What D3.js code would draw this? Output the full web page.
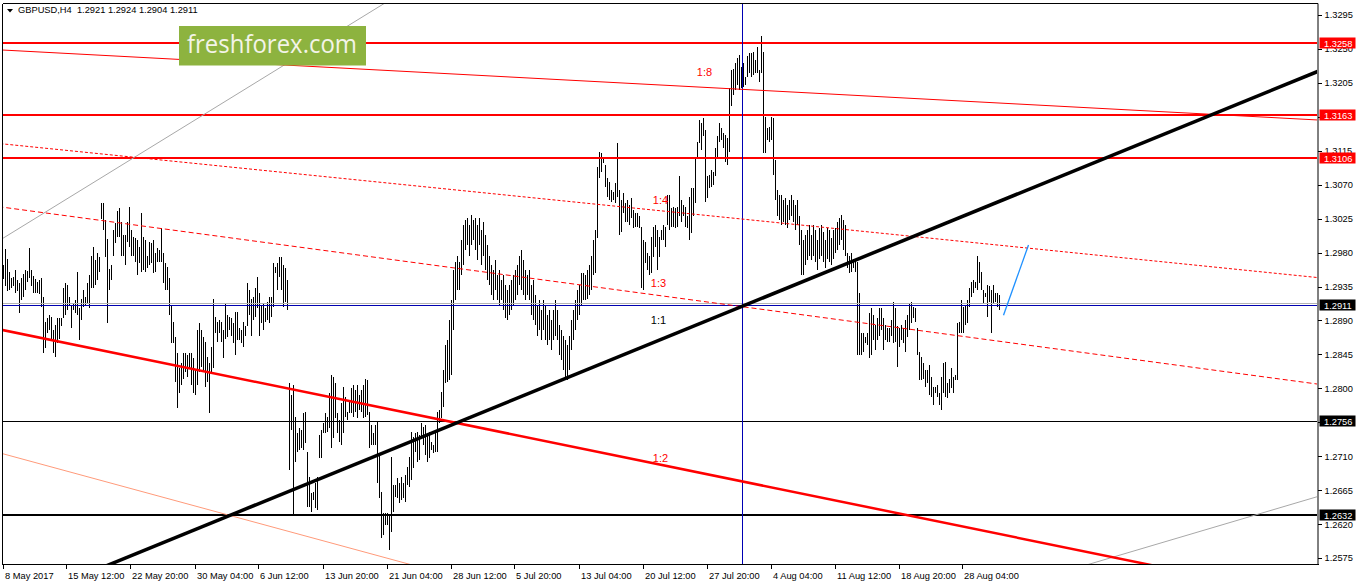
<!DOCTYPE html>
<html><head><meta charset="utf-8">
<script src="https://cdn.jsdelivr.net/npm/d3@7"></script>
<style>html,body{margin:0;padding:0;background:#fff;overflow:hidden}svg{display:block}</style>
</head><body>
<svg id="c" width="1358" height="584"></svg>
<script>
// ---------------- DATA ----------------
const symbol = "GBPUSD,H4";
const lastOHLC = [1.2921, 1.2924, 1.2904, 1.2911];

// H4 bar highs / lows (one per bar, oldest first)
const highs = [
1.2963,1.2985,1.2972,1.2954,1.2946,1.2948,1.2957,1.2944,1.2939,1.2946,
1.2952,1.2957,1.2956,1.2986,1.2957,1.2949,1.2945,1.2941,1.2944,1.2946,
1.2921,1.2888,1.2893,1.2897,1.2895,1.2877,1.2884,1.2893,1.2893,1.2893,
1.2933,1.2940,1.2937,1.2921,1.2910,1.2912,1.2917,1.2954,1.2906,1.2919,
1.2930,1.2921,1.2940,1.2950,1.2976,1.2988,1.2970,1.2980,1.2974,1.3046,
1.3046,1.3023,1.2998,1.2958,1.2963,1.3010,1.3019,1.3035,1.3039,1.3020,
1.3003,1.3003,1.3020,1.3041,1.3010,1.3001,1.2999,1.2997,1.2988,1.3032,
1.3001,1.2997,1.2976,1.2994,1.2993,1.2997,1.2980,1.2986,1.2983,1.3013,
1.2979,1.2966,1.2961,1.2946,1.2910,1.2888,1.2868,1.2847,1.2827,1.2834,
1.2847,1.2847,1.2844,1.2847,1.2847,1.2840,1.2824,1.2877,1.2887,1.2877,
1.2868,1.2861,1.2842,1.2834,1.2855,1.2919,1.2895,1.2888,1.2891,1.2888,
1.2877,1.2913,1.2897,1.2895,1.2893,1.2887,1.2901,1.2901,1.2880,1.2877,
1.2888,1.2882,1.2940,1.2930,1.2919,1.2921,1.2933,1.2948,1.2926,1.2910,
1.2913,1.2906,1.2914,1.2921,1.2921,1.2966,1.2961,1.2966,1.2974,1.2974,
1.2963,1.2959,1.2944,1.2807,1.2791,1.2804,1.2762,1.2741,1.2747,1.2745,
1.2767,1.2768,1.2715,1.2683,1.2661,1.2662,1.2675,1.2683,1.2738,1.2745,
1.2754,1.2767,1.2762,1.2794,1.2818,1.2815,1.2807,1.2767,1.2758,1.2781,
1.2802,1.2788,1.2768,1.2785,1.2800,1.2804,1.2798,1.2804,1.2791,1.2798,
1.2804,1.2813,1.2811,1.2768,1.2751,1.2741,1.2751,1.2755,1.2714,1.2662,
1.2635,1.2635,1.2635,1.2632,1.2709,1.2672,1.2672,1.2681,1.2675,1.2683,
1.2675,1.2685,1.2696,1.2709,1.2742,1.2735,1.2741,1.2742,1.2738,1.2754,
1.2749,1.2751,1.2741,1.2742,1.2729,1.2725,1.2741,1.2768,1.2771,1.2795,
1.2824,1.2858,1.2864,1.2891,1.2917,1.2957,1.2967,1.2976,1.2967,1.2997,
1.3017,1.3023,1.3026,1.3017,1.3030,1.3023,1.3026,1.3017,1.3026,1.3010,
1.3020,1.3003,1.2990,1.2976,1.2963,1.2957,1.2970,1.2950,1.2957,1.2944,
1.2950,1.2937,1.2930,1.2937,1.2944,1.2950,1.2957,1.2963,1.2976,1.2983,
1.2970,1.2957,1.2950,1.2957,1.2937,1.2944,1.2924,1.2910,1.2917,1.2904,
1.2917,1.2910,1.2897,1.2904,1.2891,1.2904,1.2917,1.2904,1.2884,1.2877,
1.2870,1.2864,1.2858,1.2870,1.2891,1.2904,1.2917,1.2930,1.2937,1.2953,
1.2953,1.2950,1.2957,1.2963,1.2976,1.2997,1.3010,1.3093,1.3113,1.3112,
1.3105,1.3096,1.3079,1.3074,1.3063,1.3060,1.3072,1.3125,1.3063,1.3050,
1.3059,1.3046,1.3050,1.3043,1.3052,1.3036,1.3033,1.3032,1.3029,1.3014,
1.2997,1.2994,1.2979,1.2976,1.3001,1.3014,1.3017,1.3010,1.3001,1.3010,
1.3017,1.3014,1.3056,1.3056,1.3039,1.3041,1.3039,1.3041,1.3081,1.3050,
1.3043,1.3041,1.3029,1.3054,1.3066,1.3066,1.3107,1.3126,1.3156,1.3152,
1.3159,1.3143,1.3081,1.3083,1.3090,1.3087,1.3119,1.3134,1.3152,1.3145,
1.3139,1.3136,1.3132,1.3198,1.3222,1.3224,1.3232,1.3238,1.3242,1.3226,
1.3231,1.3213,1.3240,1.3245,1.3245,1.3246,1.3235,1.3253,1.3222,1.3267,
1.3246,1.3160,1.3145,1.3147,1.3160,1.3159,1.3103,1.3063,1.3056,1.3056,
1.3050,1.3052,1.3043,1.3050,1.3056,1.3050,1.3043,1.3050,1.3029,1.3010,
1.2997,1.3003,1.3010,1.3017,1.3003,1.3017,1.3010,1.2997,1.3013,1.3017,
1.3007,1.2997,1.3013,1.3010,1.2999,1.3010,1.3013,1.3020,1.3026,1.3030,
1.3023,1.3017,1.2980,1.2976,1.2980,1.2972,1.2970,1.2967,1.2926,1.2874,
1.2873,1.2868,1.2873,1.2900,1.2906,1.2897,1.2884,1.2893,1.2906,1.2906,
1.2893,1.2884,1.2880,1.2880,1.2891,1.2914,1.2906,1.2882,1.2880,1.2884,
1.2880,1.2891,1.2897,1.2913,1.2914,1.2908,1.2906,1.2880,1.2848,1.2842,
1.2834,1.2824,1.2824,1.2831,1.2815,1.2802,1.2802,1.2804,1.2794,1.2815,
1.2834,1.2835,1.2807,1.2813,1.2827,1.2815,1.2818,1.2887,1.2888,1.2917,
1.2908,1.2910,1.2917,1.2933,1.2941,1.2944,1.2941,1.2976,1.2967,1.2954,
1.2930,1.2927,1.2937,1.2935,1.2930,1.2937,1.2927,1.2926,1.2924
];
const lows = [
1.2945,1.2935,1.2929,1.2930,1.2933,1.2935,1.2926,1.2929,1.2900,1.2917,
1.2921,1.2930,1.2941,1.2946,1.2935,1.2926,1.2926,1.2927,1.2925,1.2908,
1.2847,1.2853,1.2873,1.2877,1.2864,1.2847,1.2842,1.2860,1.2866,1.2882,
1.2893,1.2897,1.2904,1.2910,1.2880,1.2904,1.2900,1.2897,1.2864,1.2891,
1.2908,1.2910,1.2913,1.2906,1.2933,1.2933,1.2937,1.2944,1.2954,1.3024,
1.3010,1.2974,1.2887,1.2930,1.2944,1.2976,1.2993,1.3001,1.3001,1.2976,
1.2976,1.2963,1.2994,1.2988,1.2976,1.2976,1.2967,1.2950,1.2966,1.2954,
1.2957,1.2954,1.2960,1.2963,1.2966,1.2953,1.2954,1.2967,1.2967,1.2967,
1.2940,1.2930,1.2930,1.2897,1.2860,1.2860,1.2808,1.2774,1.2794,1.2804,
1.2813,1.2821,1.2815,1.2827,1.2804,1.2794,1.2791,1.2804,1.2821,1.2828,
1.2821,1.2802,1.2808,1.2767,1.2821,1.2827,1.2873,1.2861,1.2874,1.2861,
1.2840,1.2866,1.2868,1.2877,1.2870,1.2860,1.2844,1.2864,1.2864,1.2860,
1.2855,1.2870,1.2882,1.2897,1.2870,1.2891,1.2895,1.2906,1.2870,1.2887,
1.2877,1.2888,1.2891,1.2887,1.2895,1.2908,1.2953,1.2930,1.2948,1.2930,
1.2908,1.2914,1.2904,1.2692,1.2745,1.2632,1.2702,1.2715,1.2718,1.2721,
1.2718,1.2728,1.2643,1.2643,1.2636,1.2652,1.2641,1.2639,1.2707,1.2707,
1.2741,1.2741,1.2742,1.2747,1.2721,1.2734,1.2760,1.2741,1.2729,1.2725,
1.2741,1.2762,1.2758,1.2767,1.2767,1.2762,1.2768,1.2760,1.2771,1.2768,
1.2760,1.2762,1.2764,1.2721,1.2725,1.2725,1.2725,1.2675,1.2654,1.2601,
1.2605,1.2619,1.2619,1.2586,1.2609,1.2636,1.2656,1.2654,1.2648,1.2652,
1.2654,1.2649,1.2672,1.2669,1.2679,1.2694,1.2715,1.2702,1.2705,1.2734,
1.2725,1.2711,1.2702,1.2707,1.2718,1.2714,1.2715,1.2715,1.2754,1.2760,
1.2775,1.2807,1.2808,1.2811,1.2818,1.2877,1.2917,1.2930,1.2930,1.2950,
1.2963,1.2983,1.2990,1.2976,1.2990,1.2997,1.2983,1.2970,1.2990,1.2963,
1.2976,1.2957,1.2944,1.2937,1.2924,1.2917,1.2930,1.2917,1.2910,1.2917,
1.2904,1.2893,1.2891,1.2897,1.2904,1.2910,1.2917,1.2924,1.2937,1.2930,
1.2924,1.2917,1.2924,1.2917,1.2897,1.2891,1.2884,1.2870,1.2877,1.2864,
1.2877,1.2864,1.2858,1.2864,1.2851,1.2864,1.2870,1.2864,1.2844,1.2838,
1.2824,1.2813,1.2811,1.2824,1.2851,1.2864,1.2877,1.2891,1.2897,1.2910,
1.2917,1.2917,1.2919,1.2924,1.2930,1.2950,1.2953,1.2999,1.3079,1.3087,
1.3099,1.3067,1.3054,1.3050,1.3047,1.3050,1.3046,1.3054,1.3003,1.3007,
1.3032,1.3020,1.3020,1.3017,1.3026,1.3013,1.3014,1.3014,1.3013,1.2933,
1.2930,1.2966,1.2957,1.2950,1.2953,1.2974,1.2988,1.2957,1.2974,1.2997,
1.2997,1.2988,1.3017,1.3010,1.3014,1.3014,1.3013,1.3014,1.3029,1.3020,
1.3029,1.3014,1.3013,1.2997,1.3006,1.3029,1.3046,1.3105,1.3125,1.3116,
1.3134,1.3047,1.3053,1.3066,1.3067,1.3070,1.3081,1.3105,1.3126,1.3129,
1.3119,1.3100,1.3096,1.3113,1.3175,1.3189,1.3196,1.3202,1.3196,1.3198,
1.3200,1.3202,1.3213,1.3218,1.3213,1.3215,1.3218,1.3218,1.3206,1.3218,
1.3112,1.3112,1.3129,1.3126,1.3129,1.3083,1.3050,1.3029,1.3023,1.3017,
1.3020,1.3017,1.3013,1.3023,1.3029,1.3020,1.3010,1.3017,1.2990,1.2950,
1.2950,1.2963,1.2970,1.2976,1.2970,1.2976,1.2967,1.2957,1.2972,1.2976,
1.2967,1.2959,1.2972,1.2967,1.2963,1.2972,1.2980,1.2983,1.2990,1.2997,
1.2983,1.2975,1.2959,1.2953,1.2954,1.2959,1.2954,1.2844,1.2844,1.2844,
1.2848,1.2860,1.2857,1.2840,1.2844,1.2864,1.2851,1.2864,1.2870,1.2877,
1.2851,1.2864,1.2861,1.2861,1.2870,1.2860,1.2861,1.2828,1.2855,1.2864,
1.2860,1.2848,1.2868,1.2877,1.2887,1.2893,1.2888,1.2844,1.2811,1.2811,
1.2813,1.2802,1.2807,1.2791,1.2788,1.2778,1.2794,1.2788,1.2778,1.2771,
1.2794,1.2788,1.2787,1.2794,1.2800,1.2794,1.2811,1.2811,1.2874,1.2873,
1.2874,1.2884,1.2887,1.2908,1.2921,1.2926,1.2933,1.2930,1.2940,1.2930,
1.2913,1.2921,1.2895,1.2914,1.2874,1.2913,1.2914,1.2908,1.2904
];

// time axis: bar index of each label and its text
const xTickIndex = [0,32,64,96,128,160,192,224,256,288,320,352,384,416,448,480];
const xTickLabels = ["8 May 2017","15 May 12:00","22 May 20:00","30 May 04:00","6 Jun 12:00",
  "13 Jun 20:00","21 Jun 04:00","28 Jun 12:00","5 Jul 20:00","13 Jul 04:00","20 Jul 12:00",
  "27 Jul 20:00","4 Aug 04:00","11 Aug 12:00","18 Aug 20:00","28 Aug 04:00"];

// price axis ticks
const yTickValues = [1.2575,1.2620,1.2665,1.2710,1.2755,1.2800,1.2845,1.2890,1.2935,
  1.2980,1.3025,1.3070,1.3115,1.3160,1.3205,1.3250,1.3295];

// horizontal levels
const resistanceLevels = [1.3258, 1.3163, 1.3106];
const supportLevel = 1.2756;
const strongSupportLevel = 1.2632;
const bidLevel = 1.2911;
const refLevel = 1.29125;

// vertical marker (bar index)
const markerBar = 369;

// trend lines: [barIndex, price] pairs
const trendMain = [[55, 1.25685], [656.5, 1.32195]];
const channelLow = [[0, 1.2877], [573.5, 1.25658]];
const channelTop = [[0, 1.32485], [656.5, 1.31559]];
const fanUpper = [[0, 1.3124], [656.5, 1.2947]];
const fanMid = [[0, 1.3040], [656.5, 1.28058]];
const fanLow = [[0, 1.2713], [200.5, 1.25685]];
const greyUp = [[0, 1.29994], [190, 1.33097]];
const greyLow = [[545, 1.25685], [656.5, 1.2656]];
const forecast = [[500, 1.2897], [512.5, 1.2990]];

// ratio annotations
const ratioText = ["1:8", "1:4", "1:3", "1:1", "1:2"];
const ratioBar = [350.5, 328.5, 327.5, 327.5, 328.5];
const ratioPrice = [1.32195, 1.3050, 1.2940, 1.2891, 1.2708];

// ---------------- DRAW ----------------
const W = 1358, H = 584;
const plot = {left: 2.5, right: 1317.5, top: 3.5, bottom: 564.5};
const svg = d3.select("#c");
const FONT = "'Liberation Sans', Arial, sans-serif";

svg.append("rect").attr("width", W).attr("height", H).attr("fill", "#fff");

const x = d3.scaleLinear().domain([0, 498]).range([3.5, 999.5]);
const y = d3.scaleLinear().domain([1.2575, 1.3295]).range([558, 15]);

svg.append("defs").append("clipPath").attr("id", "plotClip")
  .append("rect").attr("x", 3).attr("y", 4).attr("width", 1314).attr("height", 560);

const g = svg.append("g").attr("clip-path", "url(#plotClip)");

// bars
const bars = d3.range(highs.length).map(i => ({i, h: highs[i], l: lows[i]}));
g.append("g").selectAll("line").data(bars).join("line")
  .attr("x1", d => x(d.i)).attr("x2", d => x(d.i))
  .attr("y1", d => Math.round(y(d.h)))
  .attr("y2", d => Math.max(Math.round(y(d.l)), Math.round(y(d.h)) + 1))
  .attr("stroke", "#000").attr("stroke-width", 1).attr("shape-rendering", "crispEdges");

// horizontal lines
function hline(v, color, w) {
  const yy = Math.round(y(v)) + (w % 2 ? 0.5 : 0);
  g.append("line").attr("x1", 0).attr("x2", plot.right).attr("y1", yy).attr("y2", yy)
    .attr("stroke", color).attr("stroke-width", w).attr("shape-rendering", "crispEdges");
}
hline(refLevel, "#b4b4b4", 1);
hline(bidLevel, "#0000b0", 1);
hline(supportLevel, "#000", 1);
hline(strongSupportLevel, "#000", 2);
resistanceLevels.forEach(v => hline(v, "#ff0000", 2));

// vertical marker
g.append("line").attr("x1", Math.round(x(markerBar)) + 0.5).attr("x2", Math.round(x(markerBar)) + 0.5)
  .attr("y1", 0).attr("y2", H).attr("stroke", "#0000b4").attr("stroke-width", 1)
  .attr("shape-rendering", "crispEdges");

// trend lines
const lineGen = d3.line().x(d => x(d[0])).y(d => y(d[1]));
function extend(pts, f) {
  const [a, b] = pts;
  const di = b[0] - a[0], dp = b[1] - a[1];
  return [[a[0] - di * f, a[1] - dp * f], [b[0] + di * f, b[1] + dp * f]];
}
function tline(pts, color, w, dash, ext) {
  g.append("path").attr("d", lineGen(ext ? extend(pts, ext) : pts)).attr("fill", "none")
    .attr("stroke", color).attr("stroke-width", w)
    .attr("stroke-dasharray", dash || null);
}
tline(greyUp, "#a8a8a8", 1, null, 0.05);
tline(greyLow, "#a8a8a8", 1, null, 0.05);
tline(fanLow, "#ff9a7a", 1, null, 0.02);
tline(channelTop, "#ff0000", 1, null, 0.01);
tline(fanUpper, "#ff0000", 1, "3,2", 0.01);
tline(fanMid, "#ff0000", 1, "5,3", 0.01);
tline(channelLow, "#ff0000", 2.5, null, 0.02);
tline(trendMain, "#000", 3.5, null, 0.02);
tline(forecast, "#1e90ff", 1.3, null, 0);

// ratio labels
g.append("g").selectAll("text").data(ratioText).join("text")
  .attr("x", (d, i) => x(ratioBar[i])).attr("y", (d, i) => y(ratioPrice[i]) + 4)
  .attr("text-anchor", "middle").attr("font-family", FONT).attr("font-size", 11)
  .attr("fill", d => d === "1:1" ? "#000" : "#ff0000").text(d => d);

// frame
svg.append("line").attr("x1", plot.left).attr("x2", plot.left).attr("y1", plot.top).attr("y2", plot.bottom)
  .attr("stroke", "#000").attr("shape-rendering", "crispEdges");
svg.append("line").attr("x1", plot.left).attr("x2", plot.right).attr("y1", plot.top).attr("y2", plot.top)
  .attr("stroke", "#000").attr("shape-rendering", "crispEdges");

// right price axis
const yAxis = d3.axisRight(y).tickValues(yTickValues).tickFormat(d3.format(".4f"))
  .tickSize(4).tickPadding(3);
const ya = svg.append("g").attr("transform", `translate(${plot.right},0)`).call(yAxis);
ya.select(".domain").attr("d", `M0.5,${plot.top}V${plot.bottom}`).attr("stroke", "#000");
ya.selectAll(".tick line").attr("stroke", "#000").attr("shape-rendering", "crispEdges");
ya.selectAll(".tick text").attr("font-family", FONT).attr("font-size", 9.3).attr("fill", "#000");

// bottom time axis
const xa = svg.append("g").attr("transform", `translate(0,${plot.bottom})`);
xa.append("line").attr("x1", plot.left).attr("x2", plot.right + 1).attr("y1", 0).attr("y2", 0)
  .attr("stroke", "#000").attr("shape-rendering", "crispEdges");
const xt = xa.selectAll("g.xt").data(xTickIndex).join("g").attr("class", "xt")
  .attr("transform", d => `translate(${Math.round(x(d)) - 0.5},0)`);
xt.append("line").attr("y1", 0).attr("y2", 4).attr("stroke", "#000").attr("shape-rendering", "crispEdges");
xt.append("text").attr("x", 1.5).attr("y", 14.5).attr("font-family", FONT).attr("font-size", 9.3)
  .attr("fill", "#000").text((d, i) => xTickLabels[i]);

// price label boxes
const boxes = resistanceLevels.map(v => ({v, fill: "#ff0000"}))
  .concat([bidLevel, supportLevel, strongSupportLevel].map(v => ({v, fill: "#000"})));
const bx = svg.append("g").selectAll("g").data(boxes).join("g")
  .attr("transform", d => `translate(${plot.right + 2},${Math.round(y(d.v))})`);
bx.append("rect").attr("x", 0).attr("y", -5.5).attr("width", 36).attr("height", 11)
  .attr("fill", d => d.fill);
bx.append("text").attr("x", 4.5).attr("y", 3.5).attr("font-family", FONT).attr("font-size", 9.3)
  .attr("fill", "#fff").text(d => d3.format(".4f")(d.v));

// header
svg.append("path").attr("d", "M7,9 L13,9 L10,12.5 Z").attr("fill", "#000");
svg.append("text").attr("x", 18).attr("y", 13).attr("font-family", FONT).attr("font-size", 9.3)
  .attr("fill", "#000").style("white-space", "pre")
  .text(symbol + "  " + lastOHLC.map(d3.format(".4f")).join(" "));

// logo
const logo = svg.append("g");
logo.append("rect").attr("x", 179).attr("y", 26).attr("width", 187).attr("height", 39.5).attr("fill", "#8db33f");
logo.append("text").attr("x", 187).attr("y", 53).attr("font-family", "'Open Sans', sans-serif")
  .attr("font-size", 26).attr("fill", "#f3f4e8").attr("textLength", 170).attr("lengthAdjust", "spacingAndGlyphs")
  .text("freshforex.com");
</script>
</body></html>
